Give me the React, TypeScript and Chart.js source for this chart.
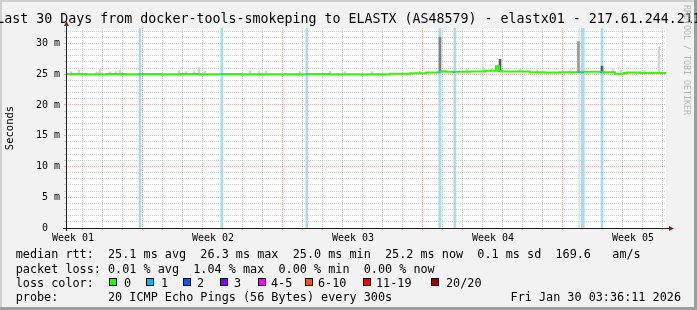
import React, { useEffect, useRef } from 'react';
import { Chart, registerables } from 'chart.js';

Chart.register(...registerables);

// ---------- text ----------
const titleText = 'Last 30 Days from docker-tools-smokeping to ELASTX (AS48579) - elastx01 - 217.61.244.211';
const yAxisTitle = 'Seconds';
const watermarkText = 'RRDTOOL / TOBI OETIKER';
const legendRow1 = 'median rtt:  25.1 ms avg  26.3 ms max  25.0 ms min  25.2 ms now  0.1 ms sd  169.6   am/s';
const legendRow2 = 'packet loss: 0.01 % avg  1.04 % max  0.00 % min  0.00 % now';
const legendRow3Label = 'loss color:';
const legendRow4 = 'probe:       20 ICMP Echo Pings (56 Bytes) every 300s';
const legendDate = 'Fri Jan 30 03:36:11 2026';

// ---------- axes ----------
const spanDays = 30; // window: Dec 31 03:36:11 -> Jan 30 03:36:11
const firstMondayDay = 3.8499; // Mon Jan 05 00:00 relative to window start (days)
const weekLabels = ['Week 01', 'Week 02', 'Week 03', 'Week 04', 'Week 05'];
const weekLabelDays = [0.35, 7.35, 14.35, 21.35, 28.35];
const yMax = 32.5;
const yTickValues = [0, 1, 2, 3, 4, 5, 6, 7, 8, 9, 10, 11, 12, 13, 14, 15, 16, 17, 18, 19, 20, 21, 22, 23, 24, 25, 26, 27, 28, 29, 30, 31, 32];
const yTickLabels = ['0  ', '', '', '', '', '5 m', '', '', '', '', '10 m', '', '', '', '', '15 m', '', '', '', '', '20 m', '', '', '', '', '25 m', '', '', '', '', '30 m', '', ''];

// ---------- loss colours ----------
const lossColors = ['#26ff00', '#00b8ff', '#0059ff', '#7e00ff', '#ff00ff', '#ff5500', '#ff0000', '#a10000'];
const lossColorLabels = ['0', '1', '2', '3', '4-5', '6-10', '11-19', '20/20'];

// ---------- median rtt (ms), time in days since window start, loss colour index ----------
const medianDays = [0, 1.0, 2.0, 3.0, 3.65, 3.75, 4.7, 5.7, 6.7, 7.74, 7.84, 8.7, 9.7, 10.7, 11.99, 12.09, 13.2, 14.7, 16.2, 17.2, 18.0, 18.64, 18.74, 19.05, 19.39, 19.49, 20.2, 20.95, 21.5, 21.65, 21.75, 22.45, 23.2, 23.95, 24.7, 25.6, 25.7, 25.76, 25.91, 26.75, 26.85, 27.45, 27.9, 28.05, 28.7, 29.45, 30.0];
const medianMs = [25.0, 25.02, 25.0, 25.02, 25.0, 25.0, 25.02, 25.0, 25.03, 25.0, 25.0, 25.02, 25.0, 25.0, 25.0, 25.0, 25.02, 25.0, 25.0, 25.05, 25.15, 25.25, 25.3, 25.45, 25.4, 25.35, 25.4, 25.45, 25.55, 26.3, 25.5, 25.45, 25.45, 25.3, 25.25, 25.3, 25.3, 25.3, 25.3, 25.4, 25.35, 25.3, 25.05, 25.2, 25.25, 25.2, 25.2];
const medianLoss = [0, 0, 0, 0, 1, 0, 0, 0, 0, 1, 0, 0, 0, 0, 1, 0, 0, 0, 0, 0, 0, 1, 0, 0, 1, 0, 0, 0, 0, 0, 0, 0, 0, 0, 0, 1, 0, 1, 0, 1, 0, 0, 0, 0, 0, 0, 0];

// ---------- smoke (ping spread) ----------
const smokeLightDays = [0.25, 0.65, 1.55, 1.7, 2.2, 2.5, 2.7, 5.65, 6.0, 6.4, 6.65, 6.95, 9.2, 9.65, 10.0, 11.7, 13.2, 13.95, 15.3, 17.7, 18.95, 20.05, 20.85, 21.3, 21.55, 22.7, 23.55, 25.2, 27.35, 27.75, 28.95, 29.65];
const smokeLightLow = [25.0, 25.0, 25.0, 25.0, 25.0, 25.0, 25.0, 25.0, 25.0, 25.0, 25.0, 25.0, 25.0, 25.0, 25.0, 25.0, 25.0, 25.0, 25.0, 25.0, 25.3, 25.4, 25.45, 25.45, 25.5, 25.45, 25.4, 25.25, 25.3, 25.3, 25.25, 25.2];
const smokeLightHigh = [25.4, 25.7, 25.35, 25.75, 25.4, 25.4, 25.6, 25.6, 25.4, 25.45, 26.1, 25.5, 25.6, 25.4, 25.5, 25.4, 25.45, 25.4, 25.4, 25.45, 25.7, 25.8, 26.1, 25.9, 26.5, 25.8, 25.7, 25.6, 25.75, 25.6, 25.6, 29.4];
const smokeSpikeDays = [18.7, 25.62];
const smokeSpikeLow = [25.3, 25.3];
const smokeSpikeHigh = [31.0, 30.3];
const smokeDarkDays = [21.7, 26.8];
const smokeDarkLow = [25.55, 25.3];
const smokeDarkHigh = [27.4, 26.3];

// ---------- loss background bars (1/20 lost) ----------
const lossBarDays = [3.7, 7.79, 12.04, 18.69, 19.44, 26.8];
const lossBarWideDays = [25.84];
const lossBarThinDays = [25.66];

const MONO = '"DejaVu Sans Mono", monospace';

export default function App() {
  const ref = useRef<HTMLCanvasElement>(null);

  useEffect(() => {
    const canvas = ref.current;
    if (!canvas) return;

    // x ticks: daily grid lines (weekly major) + week label positions
    const xTicks: { value: number; kind: string; label: string }[] = [];
    for (let k = -4; k < 40; k++) {
      const v = firstMondayDay + k;
      if (v <= 0 || v >= spanDays) continue;
      xTicks.push({ value: v, kind: ((k % 7) + 7) % 7 === 0 ? 'major' : 'minor', label: '' });
    }
    weekLabelDays.forEach((d, i) => xTicks.push({ value: d, kind: 'label', label: weekLabels[i] }));
    xTicks.sort((a, b) => a.value - b.value);

    const minorGrid = 'rgba(143,143,143,0.42)';
    const majorGrid = 'rgba(222,79,79,0.45)';

    const bars = (days: number[], lo: number[], hi: number[]) => days.map((d, i) => ({ x: d, y: [lo[i], hi[i]] }));
    const fullBars = (days: number[]) => days.map((d) => ({ x: d, y: [0, yMax] }));

    const framePlugin = {
      id: 'rrdFrame',
      beforeDraw(chart: any) {
        const { ctx, chartArea } = chart;
        ctx.save();
        ctx.fillStyle = '#ffffff';
        ctx.fillRect(chartArea.left, chartArea.top, chartArea.right - chartArea.left, chartArea.bottom - chartArea.top);
        ctx.restore();
      },
      afterDraw(chart: any) {
        const { ctx, chartArea } = chart;
        const { left, top, right, bottom } = chartArea;
        ctx.save();
        ctx.strokeStyle = '#1f1f1f';
        ctx.lineWidth = 1;
        ctx.beginPath();
        ctx.moveTo(left + 0.5, bottom + 3);
        ctx.lineTo(left + 0.5, top - 3);
        ctx.moveTo(left - 3, bottom + 0.5);
        ctx.lineTo(right + 3, bottom + 0.5);
        ctx.stroke();
        ctx.fillStyle = '#801f1f';
        ctx.beginPath();
        ctx.moveTo(left + 0.5, top - 7);
        ctx.lineTo(left - 2, top - 2);
        ctx.lineTo(left + 3, top - 2);
        ctx.closePath();
        ctx.fill();
        ctx.beginPath();
        ctx.moveTo(right + 8, bottom + 0.5);
        ctx.lineTo(right + 3, bottom - 2);
        ctx.lineTo(right + 3, bottom + 3);
        ctx.closePath();
        ctx.fill();
        ctx.restore();
      },
    };

    const chart = new Chart(canvas, {
      type: 'bar',
      data: {
        datasets: [
          {
            type: 'line',
            label: 'median rtt',
            data: medianDays.map((d, i) => ({ x: d, y: medianMs[i] })),
            borderColor: lossColors[0],
            borderWidth: 2,
            pointRadius: 0,
            stepped: 'after',
            segment: {
              borderColor: (c: any) => lossColors[medianLoss[c.p0DataIndex]],
            },
            order: 0,
          } as any,
          {
            type: 'bar',
            label: 'smoke dark',
            data: bars(smokeDarkDays, smokeDarkLow, smokeDarkHigh),
            backgroundColor: '#5a5a5a',
            barThickness: 2,
            grouped: false,
            order: 1,
          } as any,
          {
            type: 'bar',
            label: 'smoke spike',
            data: bars(smokeSpikeDays, smokeSpikeLow, smokeSpikeHigh),
            backgroundColor: ['#7f7f7f', '#9a9a9a'],
            barThickness: 2,
            grouped: false,
            order: 2,
          } as any,
          {
            type: 'bar',
            label: 'smoke light',
            data: bars(smokeLightDays, smokeLightLow, smokeLightHigh),
            backgroundColor: '#d4d4d4',
            barThickness: 2,
            grouped: false,
            order: 3,
          } as any,
          {
            type: 'bar',
            label: 'loss',
            data: fullBars(lossBarDays),
            backgroundColor: '#a4dcf4',
            barThickness: 2,
            grouped: false,
            order: 10,
          } as any,
          {
            type: 'bar',
            label: 'loss wide',
            data: fullBars(lossBarWideDays),
            backgroundColor: '#a4dcf4',
            barThickness: 3,
            grouped: false,
            order: 11,
          } as any,
          {
            type: 'bar',
            label: 'loss thin',
            data: fullBars(lossBarThinDays),
            backgroundColor: '#c6ebfa',
            barThickness: 1,
            grouped: false,
            order: 12,
          } as any,
        ],
      },
      options: {
        animation: false,
        responsive: false,
        events: [],
        layout: { padding: { top: 28, right: 31, left: 0, bottom: 0 } },
        plugins: { legend: { display: false }, tooltip: { enabled: false }, title: { display: false } },
        scales: {
          x: {
            type: 'linear',
            min: 0,
            max: spanDays,
            offset: false,
            afterBuildTicks: (s: any) => {
              s.ticks = xTicks.map((t) => ({ value: t.value }));
            },
            afterFit: (s: any) => {
              s.height = 82;
            },
            grid: {
              offset: false,
              lineWidth: 1,
              drawTicks: true,
              tickLength: 2,
              color: (c: any) => {
                const t = xTicks[c.index];
                if (!t || t.kind === 'label') return 'rgba(0,0,0,0)';
                return t.kind === 'major' ? majorGrid : minorGrid;
              },
              tickColor: (c: any) => {
                const t = xTicks[c.index];
                if (!t || t.kind === 'label') return 'rgba(0,0,0,0)';
                return t.kind === 'major' ? majorGrid : minorGrid;
              },
            },
            border: { display: false, dash: [1, 1] },
            ticks: {
              autoSkip: false,
              maxRotation: 0,
              minRotation: 0,
              padding: 2,
              color: '#000000',
              font: { family: MONO, size: 10 },
              callback: (_v: any, i: number) => (xTicks[i] ? xTicks[i].label : ''),
            },
          },
          y: {
            type: 'linear',
            min: 0,
            max: yMax,
            afterBuildTicks: (s: any) => {
              s.ticks = yTickValues.map((v) => ({ value: v }));
            },
            afterFit: (s: any) => {
              s.width = 66;
            },
            grid: {
              lineWidth: 1,
              drawTicks: true,
              tickLength: 2,
              color: (c: any) => (yTickValues[c.index] % 5 === 0 ? majorGrid : minorGrid),
              tickColor: (c: any) => (yTickValues[c.index] % 5 === 0 ? majorGrid : minorGrid),
            },
            border: { display: false, dash: [1, 1] },
            title: {
              display: true,
              text: yAxisTitle,
              color: '#000000',
              font: { family: MONO, size: 10.5 },
              padding: { top: 4, bottom: 0 },
            },
            ticks: {
              autoSkip: false,
              padding: 4,
              color: '#000000',
              font: { family: MONO, size: 10 },
              callback: (_v: any, i: number) => yTickLabels[i] ?? '',
            },
          },
        },
      } as any,
      plugins: [framePlugin],
    });

    return () => chart.destroy();
  }, []);

  const lossSquareX = [109, 146, 183, 220, 258, 305, 363, 431];
  const lossLabelX = [124, 161, 197, 234, 271, 318, 376, 446];

  const row = (top: number): React.CSSProperties => ({
    position: 'absolute',
    left: 15.7,
    top,
    fontFamily: MONO,
    fontSize: 11.8,
    lineHeight: '14px',
    whiteSpace: 'pre',
    color: '#000',
  });

  return (
    <div
      style={{
        position: 'fixed',
        left: 0,
        top: 0,
        width: 697,
        height: 310,
        background: '#f2f2f2',
        overflow: 'hidden',
        fontFamily: MONO,
      }}
    >
      <canvas ref={ref} width={697} height={310} style={{ position: 'absolute', left: 0, top: 0, width: 697, height: 310 }} />
      {/* 3D frame */}
      <div style={{ position: 'absolute', left: 0, top: 0, width: 697, height: 2, background: '#cfcfcf' }} />
      <div style={{ position: 'absolute', left: 0, top: 0, width: 2, height: 310, background: '#cfcfcf' }} />
      <div style={{ position: 'absolute', left: 694, top: 0, width: 3, height: 310, background: '#9e9e9e' }} />
      <div style={{ position: 'absolute', left: 0, top: 307, width: 697, height: 3, background: '#9e9e9e' }} />

      {/* title */}
      <div
        style={{
          position: 'absolute',
          left: 348.5,
          top: 10.7,
          transform: 'translateX(-50%)',
          fontFamily: MONO,
          fontSize: 13.3,
          lineHeight: '16px',
          whiteSpace: 'pre',
          color: '#000',
        }}
      >
        {titleText}
      </div>

      {/* watermark */}
      <div
        style={{
          position: 'absolute',
          left: 682,
          top: 5,
          writingMode: 'vertical-rl',
          fontFamily: MONO,
          fontSize: 8.3,
          lineHeight: '10px',
          whiteSpace: 'pre',
          color: '#b4b4b4',
        }}
      >
        {watermarkText}
      </div>

      {/* legend */}
      <div style={row(247.4)}>{legendRow1}</div>
      <div style={row(261.6)}>{legendRow2}</div>
      <div style={row(276)}>{legendRow3Label}</div>
      {lossColors.map((c, i) => (
        <React.Fragment key={i}>
          <div
            style={{
              position: 'absolute',
              left: lossSquareX[i],
              top: 278,
              width: 6,
              height: 6,
              background: c,
              border: '1px solid #000',
            }}
          />
          <div style={{ ...row(276), left: lossLabelX[i] }}>{lossColorLabels[i]}</div>
        </React.Fragment>
      ))}
      <div style={row(290.2)}>{legendRow4}</div>
      <div style={{ ...row(290.2), left: undefined, right: 16 }}>{legendDate}</div>
    </div>
  );
}
